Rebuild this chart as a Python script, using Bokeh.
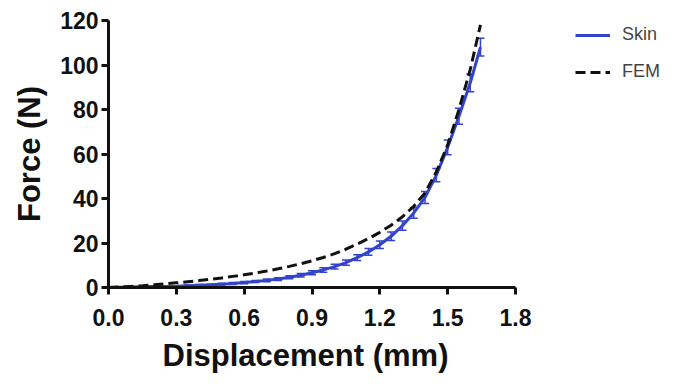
from bokeh.plotting import figure
from bokeh.models import (ColumnDataSource, Legend, LegendItem, NumeralTickFormatter,
                          FixedTicker, Range1d, Whisker, TeeHead, Title)
from bokeh.embed import file_html
from bokeh.resources import INLINE

# Data
skin_x = [0.0, 0.05, 0.1, 0.15, 0.2, 0.25, 0.3, 0.35, 0.4, 0.45, 0.5, 0.55, 0.6, 0.65,
          0.7, 0.75, 0.8, 0.85, 0.9, 0.95, 1.0, 1.05, 1.1, 1.15, 1.2, 1.25, 1.3, 1.35,
          1.4, 1.45, 1.5, 1.55, 1.6, 1.645]
skin_y = [0.0, 0.1, 0.2, 0.3, 0.4, 0.5, 0.6, 0.8, 1.0, 1.2, 1.5, 1.8, 2.2, 2.7,
          3.2, 3.8, 4.6, 5.5, 6.6, 7.9, 9.4, 11.2, 13.4, 16.0, 19.2, 23.0, 27.8, 33.5,
          40.5, 50.5, 63.0, 77.0, 92.0, 108.0]
skin_sd = [0.0, 0.1, 0.1, 0.1, 0.2, 0.2, 0.2, 0.3, 0.3, 0.3, 0.4, 0.4, 0.5, 0.5,
           0.6, 0.6, 0.7, 0.8, 0.9, 1.0, 1.1, 1.2, 1.3, 1.5, 1.7, 1.9, 2.1, 2.4,
           2.7, 3.0, 3.3, 3.6, 4.0, 4.0]

fem_x = [0.0, 0.05, 0.1, 0.15, 0.2, 0.25, 0.3, 0.35, 0.4, 0.45, 0.5, 0.55, 0.6, 0.65,
         0.7, 0.75, 0.8, 0.85, 0.9, 0.95, 1.0, 1.05, 1.1, 1.15, 1.2, 1.25, 1.3, 1.35,
         1.4, 1.45, 1.5, 1.55, 1.6, 1.645]
fem_y = [0.0, 0.2, 0.5, 0.8, 1.2, 1.6, 2.1, 2.6, 3.1, 3.7, 4.3, 5.0, 5.7, 6.5,
         7.4, 8.4, 9.5, 10.7, 12.0, 13.5, 15.2, 17.2, 19.5, 22.0, 24.8, 28.0, 31.8, 36.5,
         42.5, 52.0, 64.0, 80.0, 98.0, 118.0]

x_ticks = [0.0, 0.3, 0.6, 0.9, 1.2, 1.5, 1.8]
y_ticks = [0, 20, 40, 60, 80, 100, 120]
x_label = "Displacement (mm)"
y_label = "Force (N)"

FONT = "Liberation Sans"
BLUE = "#3343cc"

# frame spans to the right edge so the legend sits inside it; the axis stops at 1.8
p = figure(width=673, height=385, output_backend="svg", toolbar_location=None,
           x_range=Range1d(0, 1.8 * 565 / 407), y_range=Range1d(0, 120))
p.min_border_left = 108
p.min_border_right = 0
p.min_border_top = 20
p.min_border_bottom = 98
p.outline_line_color = None
p.grid.visible = False
p.background_fill_color = "white"
p.border_fill_color = "white"

for ax in (p.xaxis[0], p.yaxis[0]):
    ax.axis_line_width = 3
    ax.axis_line_color = "#111111"
    ax.major_tick_line_width = 3
    ax.major_tick_line_color = "#111111"
    ax.major_tick_out = 7
    ax.major_tick_in = 0
    ax.minor_tick_line_color = None
    ax.major_label_text_font = FONT
    ax.major_label_text_font_style = "bold"
    ax.major_label_text_font_size = "23px"
    ax.major_label_text_color = "#111111"
    ax.axis_label_text_font = FONT
    ax.axis_label_text_font_style = "bold"
    ax.axis_label_text_font_size = "31px"
    ax.axis_label_text_color = "#111111"

p.xaxis.bounds = (0, 1.8)
p.xaxis.ticker = FixedTicker(ticks=x_ticks)
p.yaxis.ticker = FixedTicker(ticks=y_ticks)
p.xaxis.formatter = NumeralTickFormatter(format="0.0")
p.yaxis.axis_label = y_label
p.xaxis.major_label_standoff = 14
p.yaxis.major_label_standoff = 3
p.yaxis.axis_label_standoff = 10

xt = Title(text=x_label, align="left", offset=54, text_font=FONT,
           text_font_style="bold", text_font_size="31px", text_color="#111111",
           standoff=14)
p.add_layout(xt, "below")

src = ColumnDataSource(dict(
    x=skin_x, y=skin_y,
    lo=[a - b for a, b in zip(skin_y, skin_sd)],
    hi=[a + b for a, b in zip(skin_y, skin_sd)]))

wh = Whisker(base="x", lower="lo", upper="hi", source=src,
             line_color=BLUE, line_width=1.5,
             upper_head=TeeHead(size=8, line_color=BLUE, line_width=1.5),
             lower_head=TeeHead(size=8, line_color=BLUE, line_width=1.5))
p.add_layout(wh)

r_skin = p.line("x", "y", source=src, line_color=BLUE, line_width=3)
r_fem = p.line(fem_x, fem_y, line_color="#111111", line_width=3, line_dash="10 5")

legend = Legend(items=[LegendItem(label="Skin", renderers=[r_skin]),
                       LegendItem(label="FEM", renderers=[r_fem])],
                location=(467, 205))
legend.label_text_font = FONT
legend.label_text_font_size = "18px"
legend.label_text_color = "#444444"
legend.background_fill_alpha = 0
legend.border_line_color = None
legend.glyph_width = 35
legend.glyph_height = 20
legend.label_height = 20
legend.spacing = 16
legend.label_standoff = 12
legend.padding = 0
legend.margin = 0
p.add_layout(legend, "center")

open("out.html", "w").write(file_html(p, INLINE))
